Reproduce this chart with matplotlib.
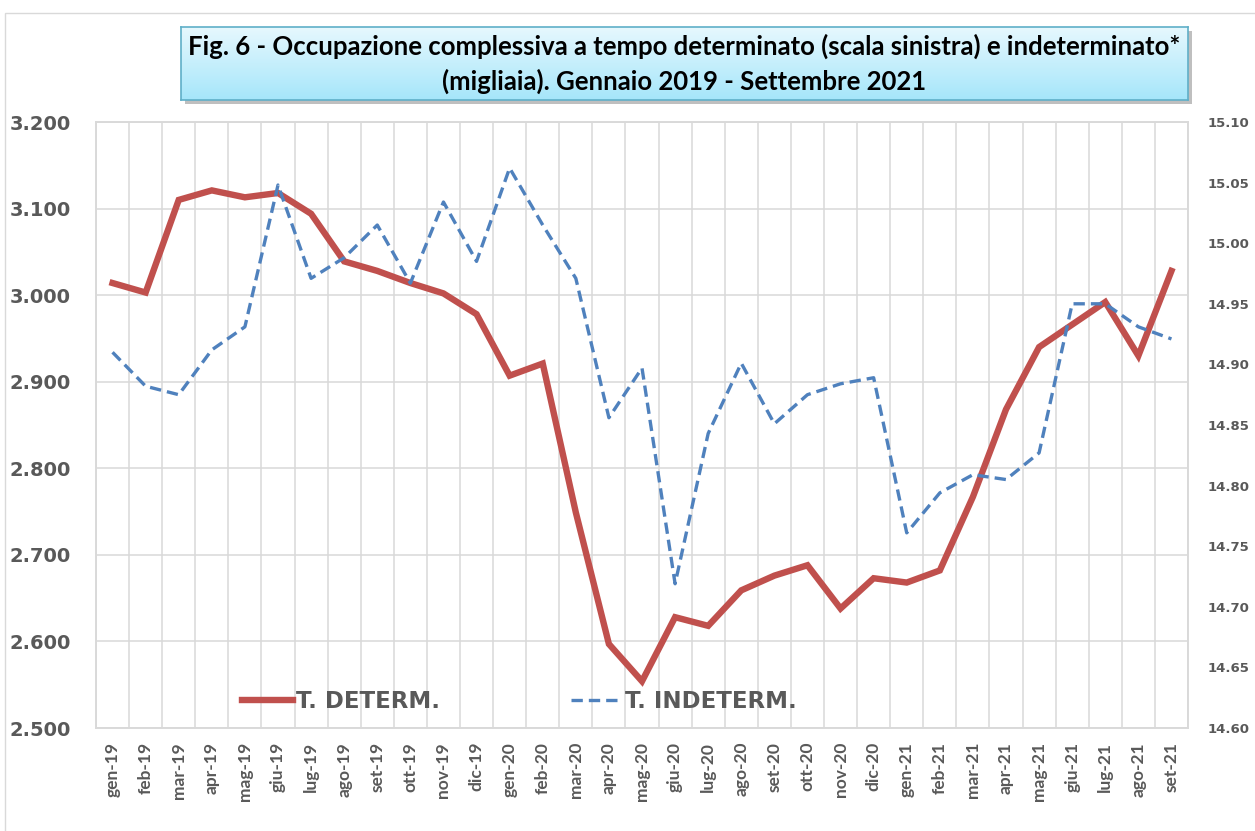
import numpy as np
import matplotlib
matplotlib.use("Agg")
from matplotlib import pyplot as plt
from matplotlib.patches import Rectangle
from matplotlib.ticker import FixedLocator, FuncFormatter

# dati (migliaia)
mesi = ["gen-19", "feb-19", "mar-19", "apr-19", "mag-19", "giu-19", "lug-19", "ago-19",
        "set-19", "ott-19", "nov-19", "dic-19", "gen-20", "feb-20", "mar-20", "apr-20",
        "mag-20", "giu-20", "lug-20", "ago-20", "set-20", "ott-20", "nov-20", "dic-20",
        "gen-21", "feb-21", "mar-21", "apr-21", "mag-21", "giu-21", "lug-21", "ago-21",
        "set-21"]

t_determ = [3014, 3003, 3110, 3121, 3113, 3118, 3094, 3039,
            3028, 3014, 3002, 2978, 2907, 2921, 2749, 2597,
            2554, 2628, 2618, 2659, 2676, 2688, 2638, 2673,
            2668, 2682, 2767, 2868, 2940, 2966, 2992, 2930,
            3028]

t_indeterm = [14.910, 14.882, 14.875, 14.912, 14.931, 15.048, 14.971, 14.988,
              15.015, 14.967, 15.034, 14.985, 15.062, 15.015, 14.971, 14.856,
              14.897, 14.719, 14.843, 14.901, 14.851, 14.875, 14.884, 14.889,
              14.761, 14.794, 14.809, 14.805, 14.827, 14.950, 14.950, 14.931,
              14.921]

left_ticks = [2500, 2600, 2700, 2800, 2900, 3000, 3100, 3200]
right_ticks = [14.60, 14.65, 14.70, 14.75, 14.80, 14.85, 14.90, 14.95, 15.00, 15.05, 15.10]

titolo = ("Fig. 6 - Occupazione complessiva a tempo determinato (scala sinistra) e indeterminato*\n"
          "(migliaia). Gennaio 2019 - Settembre 2021")

RED = "#C0504D"
BLUE = "#4F81BD"
GRID = "#D9D9D9"
TXT = "#595959"

W, H = 1255, 831
fig = plt.figure(figsize=(W / 100, H / 100), dpi=100)

# cornice esterna
fig.patches.append(Rectangle((4.5 / W, -0.01), 1.1, 1 - 13 / H + 0.01, transform=fig.transFigure,
                             fill=False, edgecolor=GRID, linewidth=1.0))

x0, x1, y0, y1 = 96, 1188, 122, 728
ax = fig.add_axes([x0 / W, 1 - y1 / H, (x1 - x0) / W, (y1 - y0) / H])
ax2 = ax.twinx()

x = np.arange(len(mesi))
ax.plot(x, t_determ, color=RED, linewidth=4.6, solid_joinstyle="miter", label="T. DETERM.", zorder=3)
ax2.plot(x, t_indeterm, color=BLUE, linewidth=2.4, dashes=(3.4, 1.8), label="T. INDETERM.", zorder=3)

ax.set_xlim(-0.5, len(mesi) - 0.5)
ax.set_ylim(2500, 3200)
ax2.set_ylim(14.60, 15.10)

ax.yaxis.set_major_locator(FixedLocator(left_ticks))
ax.yaxis.set_major_formatter(FuncFormatter(lambda v, p: f"{int(round(v)):,}".replace(",", ".")))
ax2.yaxis.set_major_locator(FixedLocator(right_ticks))
ax2.yaxis.set_major_formatter(FuncFormatter(lambda v, p: f"{v:.2f}"))

ax.set_xticks(x)
ax.set_xticklabels(mesi, rotation=90, fontsize=12.5, fontweight="bold", color=TXT, family="Lato")
ax.set_xticks(np.arange(len(mesi) + 1) - 0.5, minor=True)

ax.grid(axis="y", which="major", color=GRID, linewidth=1.1)
ax.grid(axis="x", which="minor", color=GRID, linewidth=1.1)
ax.set_axisbelow(True)

ax.tick_params(axis="x", which="both", length=0, pad=10)
ax.tick_params(axis="y", length=0, pad=18, labelsize=14, labelcolor=TXT)
ax2.tick_params(axis="y", length=0, pad=14, labelsize=9.5, labelcolor=TXT)
for lab in ax.get_yticklabels() + ax2.get_yticklabels():
    lab.set_fontweight("bold")

for a in (ax, ax2):
    for s in a.spines.values():
        s.set_color(GRID)
        s.set_linewidth(1.1)

h1, l1 = ax.get_legend_handles_labels()
h2, l2 = ax2.get_legend_handles_labels()
leg = ax.legend(h1 + h2, l1 + l2, loc="center left", bbox_to_anchor=(0.134, 0.043), ncol=2,
                frameon=False, handlelength=2.2, handletextpad=0.15, columnspacing=5.7,
                borderpad=0, borderaxespad=0,
                prop={"weight": "bold", "size": 16.5})
for t in leg.get_texts():
    t.set_color(TXT)
leg.set_zorder(5)

# box del titolo con sfumatura
bx0, bx1, by0, by1 = 181, 1188, 27, 100
sh = fig.add_axes([(bx0 + 4) / W, 1 - (by1 + 4) / H, (bx1 - bx0) / W, (by1 - by0) / H])
sh.set_facecolor("#BFBFBF")
sh.set_xticks([])
sh.set_yticks([])
for s in sh.spines.values():
    s.set_visible(False)
tb = fig.add_axes([bx0 / W, 1 - by1 / H, (bx1 - bx0) / W, (by1 - by0) / H])
grad = np.linspace(0, 1, 100).reshape(-1, 1)
top = np.array(matplotlib.colors.to_rgb("#E6F8FE"))
bot = np.array(matplotlib.colors.to_rgb("#A6E6FA"))
img = top + grad[:, :, None] * (bot - top)
tb.imshow(img, aspect="auto", extent=(0, 1, 0, 1), origin="upper")
tb.set_xlim(0, 1)
tb.set_ylim(0, 1)
tb.set_xticks([])
tb.set_yticks([])
for s in tb.spines.values():
    s.set_color("#5FAFC8")
    s.set_linewidth(1.2)
tb.text(0.5, 0.5, titolo, ha="center", va="center", fontsize=18.5, fontweight="bold",
        family="Lato", color="black", linespacing=1.45)

fig.savefig("out.png", dpi=100)
